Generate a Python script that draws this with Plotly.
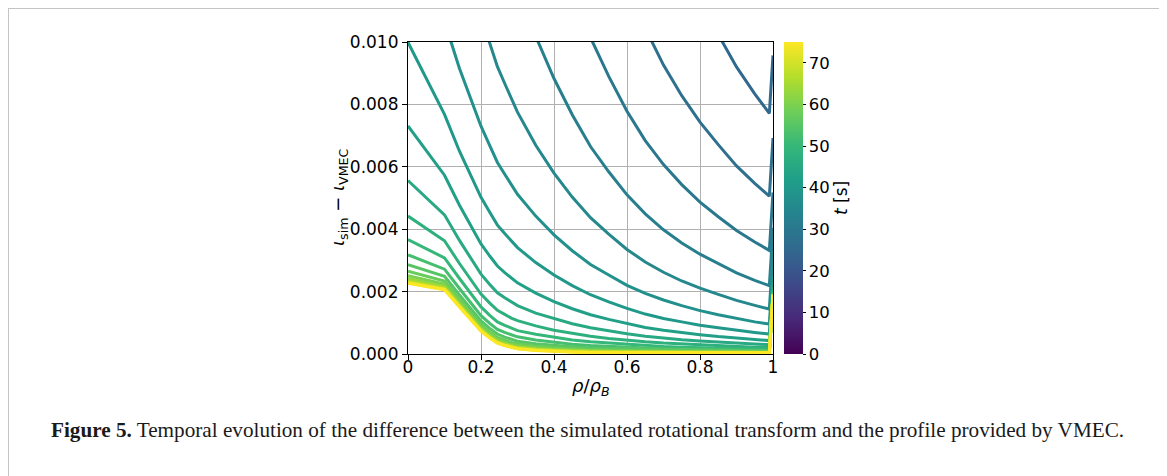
import plotly.graph_objects as go
from plotly.colors import sample_colorscale

# radial grid (rho / rho_B)
rho = [0, 0.1, 0.141, 0.173, 0.2, 0.224, 0.245, 0.265, 0.283, 0.3, 0.35, 0.4, 0.45,
       0.5, 0.55, 0.6, 0.65, 0.7, 0.75, 0.8, 0.85, 0.9, 0.95, 0.99, 1.0]

# iota_sim - iota_VMEC, in units of 1e-3, one list per snapshot time
d_t25_0 = [101.25, 74.05, 65.5, 60.08, 55.72, 52.2, 48.84, 46.26, 43.8, 41.66, 36.11, 31.38, 27.26, 23.65, 20.75, 18.14, 15.94, 14.14, 12.64, 11.34, 10.24, 9.2, 8.34, 7.71, 9.57]
d_t27_5 = [67.0, 49.14, 43.36, 39.67, 36.69, 34.31, 32.06, 30.34, 28.71, 27.3, 23.65, 20.55, 17.85, 15.48, 13.59, 11.88, 10.44, 9.26, 8.28, 7.43, 6.71, 6.03, 5.47, 5.06, 6.92]
d_t30_0 = [44.59, 32.84, 28.87, 26.31, 24.24, 22.61, 21.08, 19.93, 18.85, 17.91, 15.51, 13.47, 11.69, 10.14, 8.9, 7.78, 6.84, 6.07, 5.43, 4.87, 4.4, 3.96, 3.59, 3.32, 5.18]
d_t32_5 = [29.94, 22.19, 19.4, 17.58, 16.1, 14.96, 13.91, 13.13, 12.39, 11.77, 10.18, 8.83, 7.67, 6.65, 5.84, 5.1, 4.49, 3.98, 3.56, 3.2, 2.89, 2.6, 2.36, 2.19, 4.05]
d_t35_0 = [20.36, 15.22, 13.21, 11.87, 10.78, 9.96, 9.21, 8.67, 8.17, 7.75, 6.69, 5.8, 5.03, 4.37, 3.84, 3.35, 2.95, 2.62, 2.34, 2.11, 1.91, 1.72, 1.56, 1.44, 3.3]
d_t37_5 = [14.09, 10.66, 9.15, 8.14, 7.3, 6.68, 6.14, 5.76, 5.41, 5.12, 4.42, 3.82, 3.31, 2.87, 2.53, 2.2, 1.94, 1.73, 1.55, 1.39, 1.26, 1.14, 1.03, 0.96, 2.82]
d_t40_0 = [9.99, 7.68, 6.5, 5.69, 5.02, 4.54, 4.13, 3.86, 3.61, 3.41, 2.93, 2.53, 2.19, 1.9, 1.67, 1.46, 1.28, 1.14, 1.03, 0.92, 0.84, 0.76, 0.69, 0.64, 2.5]
d_t42_5 = [7.31, 5.73, 4.77, 4.1, 3.53, 3.14, 2.82, 2.61, 2.43, 2.28, 1.95, 1.68, 1.45, 1.26, 1.11, 0.97, 0.85, 0.76, 0.68, 0.62, 0.56, 0.51, 0.46, 0.43, 2.29]
d_t45_0 = [5.56, 4.46, 3.64, 3.05, 2.56, 2.23, 1.96, 1.8, 1.66, 1.55, 1.31, 1.13, 0.97, 0.84, 0.74, 0.65, 0.57, 0.51, 0.46, 0.42, 0.38, 0.35, 0.32, 0.3, 2.16]
d_t47_5 = [4.42, 3.63, 2.9, 2.37, 1.92, 1.63, 1.4, 1.27, 1.15, 1.07, 0.9, 0.76, 0.66, 0.57, 0.5, 0.44, 0.39, 0.35, 0.32, 0.29, 0.26, 0.24, 0.22, 0.21, 2.07]
d_t50_0 = [3.67, 3.08, 2.42, 1.92, 1.51, 1.24, 1.03, 0.92, 0.82, 0.75, 0.63, 0.53, 0.45, 0.39, 0.35, 0.3, 0.27, 0.24, 0.22, 0.2, 0.19, 0.17, 0.16, 0.15, 2.01]
d_t52_5 = [3.18, 2.72, 2.1, 1.63, 1.23, 0.98, 0.79, 0.69, 0.61, 0.55, 0.45, 0.37, 0.31, 0.27, 0.24, 0.21, 0.19, 0.17, 0.16, 0.15, 0.14, 0.13, 0.12, 0.11, 1.97]
d_t55_0 = [2.86, 2.49, 1.89, 1.44, 1.06, 0.82, 0.64, 0.54, 0.47, 0.41, 0.33, 0.27, 0.23, 0.19, 0.18, 0.15, 0.14, 0.13, 0.12, 0.11, 0.1, 0.1, 0.09, 0.09, 1.95]
d_t57_5 = [2.65, 2.34, 1.76, 1.32, 0.94, 0.71, 0.53, 0.44, 0.37, 0.33, 0.25, 0.21, 0.17, 0.14, 0.13, 0.11, 0.1, 0.1, 0.09, 0.09, 0.08, 0.08, 0.07, 0.07, 1.93]
d_t60_0 = [2.51, 2.24, 1.67, 1.23, 0.86, 0.64, 0.47, 0.38, 0.31, 0.27, 0.2, 0.16, 0.13, 0.11, 0.1, 0.09, 0.08, 0.08, 0.07, 0.07, 0.07, 0.06, 0.06, 0.06, 1.92]
d_t62_5 = [2.42, 2.17, 1.61, 1.18, 0.81, 0.59, 0.42, 0.34, 0.27, 0.23, 0.17, 0.13, 0.11, 0.09, 0.09, 0.07, 0.07, 0.06, 0.06, 0.06, 0.06, 0.06, 0.05, 0.05, 1.91]
d_t65_0 = [2.36, 2.13, 1.57, 1.15, 0.78, 0.56, 0.39, 0.31, 0.25, 0.21, 0.15, 0.12, 0.09, 0.08, 0.07, 0.06, 0.06, 0.06, 0.05, 0.05, 0.05, 0.05, 0.05, 0.05, 1.91]
d_t67_5 = [2.32, 2.1, 1.55, 1.12, 0.76, 0.54, 0.38, 0.29, 0.23, 0.19, 0.14, 0.1, 0.08, 0.07, 0.07, 0.05, 0.05, 0.05, 0.05, 0.05, 0.05, 0.05, 0.05, 0.05, 1.91]
d_t70_0 = [2.3, 2.08, 1.53, 1.11, 0.75, 0.52, 0.36, 0.28, 0.22, 0.18, 0.13, 0.1, 0.07, 0.06, 0.06, 0.05, 0.05, 0.05, 0.04, 0.04, 0.04, 0.04, 0.04, 0.04, 1.9]
d_t72_5 = [2.28, 2.07, 1.52, 1.1, 0.74, 0.52, 0.36, 0.27, 0.21, 0.17, 0.12, 0.09, 0.06, 0.05, 0.05, 0.04, 0.04, 0.04, 0.04, 0.04, 0.04, 0.04, 0.04, 0.04, 1.9]
d_t75_0 = [2.27, 2.06, 1.51, 1.09, 0.73, 0.51, 0.35, 0.27, 0.21, 0.17, 0.11, 0.08, 0.06, 0.05, 0.05, 0.04, 0.04, 0.04, 0.04, 0.04, 0.04, 0.04, 0.04, 0.04, 1.9]

times = [25.0, 27.5, 30.0, 32.5, 35.0, 37.5, 40.0, 42.5, 45.0, 47.5, 50.0,
         52.5, 55.0, 57.5, 60.0, 62.5, 65.0, 67.5, 70.0, 72.5, 75.0]
curves = [d_t25_0, d_t27_5, d_t30_0, d_t32_5, d_t35_0, d_t37_5, d_t40_0, d_t42_5,
          d_t45_0, d_t47_5, d_t50_0, d_t52_5, d_t55_0, d_t57_5, d_t60_0, d_t62_5,
          d_t65_0, d_t67_5, d_t70_0, d_t72_5, d_t75_0]

T_MIN, T_MAX = 0, 75
x_ticks = [0, 0.2, 0.4, 0.6, 0.8, 1]
x_ticktext = ["0", "0.2", "0.4", "0.6", "0.8", "1"]
y_ticks = [0, 0.002, 0.004, 0.006, 0.008, 0.010]
y_ticktext = ["0.000", "0.002", "0.004", "0.006", "0.008", "0.010"]
cb_ticks = [0, 10, 20, 30, 40, 50, 60, 70]

FONT = "DejaVu Sans"
OFF = 8  # page body margin of the html document
W, H = 1167 - OFF, 476 - OFF
# plot area geometry in window px
L, R, T, B = 408, 773, 42, 354


def px_x(p):
    return (p - L) / (R - L)


def px_y(p):
    return (B - p) / (B - T)


fig = go.Figure()

for t, c in zip(times, curves):
    col = sample_colorscale("Viridis", [(t - T_MIN) / (T_MAX - T_MIN)])[0]
    fig.add_trace(go.Scatter(
        x=rho, y=[v * 1e-3 for v in c], mode="lines",
        line=dict(color=col, width=3), showlegend=False, hoverinfo="skip"))

# colorbar carrier
fig.add_trace(go.Scatter(
    x=[0.5], y=[-1], mode="markers", showlegend=False, hoverinfo="skip",
    marker=dict(color=[0], colorscale="Viridis", cmin=T_MIN, cmax=T_MAX, size=1,
                showscale=True,
                colorbar=dict(
                    x=px_x(784), xanchor="left", y=0.5, yanchor="middle",
                    len=1, lenmode="fraction", thickness=19,
                    xpad=0, ypad=0, outlinewidth=0,
                    tickvals=cb_ticks, ticks="outside", ticklen=3, tickwidth=1,
                    tickcolor="black",
                    tickfont=dict(family=FONT, size=16.5, color="black"),
                ))))

axis_common = dict(showline=True, linecolor="black", linewidth=1.2, mirror=True,
                   ticks="outside", ticklen=5, tickwidth=1, tickcolor="black",
                   showgrid=True, gridcolor="#b0b0b0", gridwidth=1,
                   zeroline=False,
                   tickfont=dict(family=FONT, size=17, color="black"))

fig.update_xaxes(range=[0, 1], tickvals=x_ticks, ticktext=x_ticktext,
                 ticklabelstandoff=-8, **axis_common)
fig.update_yaxes(range=[0, 0.010], tickvals=y_ticks, ticktext=y_ticktext, **axis_common)

fig.add_annotation(
    x=px_x(339), y=px_y(198), xref="paper", yref="paper",
    text="<i>ι</i><sub>sim</sub>&nbsp;−&nbsp;<i>ι</i><sub>VMEC</sub>", textangle=-90,
    showarrow=False, xanchor="center", yanchor="middle",
    font=dict(family=FONT, size=18, color="black"))

fig.add_annotation(
    x=px_x(591), y=px_y(387), xref="paper", yref="paper",
    text="<i>ρ</i>/<i>ρ</i><sub><i>B</i></sub>",
    showarrow=False, xanchor="center", yanchor="middle",
    font=dict(family=FONT, size=18, color="black"))

fig.add_annotation(
    x=px_x(841), y=px_y(198), xref="paper", yref="paper",
    text="<i>t</i> [s]", textangle=-90,
    showarrow=False, xanchor="center", yanchor="middle",
    font=dict(family=FONT, size=17, color="black"))

fig.add_annotation(
    x=px_x(49), y=px_y(430), xref="paper", yref="paper",
    text="<b>Figure 5.</b> Temporal evolution of the difference between the simulated "
         "rotational transform and the profile provided by VMEC.",
    showarrow=False, xanchor="left", yanchor="middle",
    font=dict(family="Liberation Serif", size=21.2, color="#1a1a1a"))

# figure frame
fig.add_shape(type="rect", xref="paper", yref="paper",
              x0=px_x(8), x1=px_x(1161), y0=px_y(490), y1=px_y(8),
              line=dict(color="#c4c4c4", width=2), fillcolor="rgba(0,0,0,0)", layer="below")

fig.update_layout(
    width=W, height=H,
    margin=dict(l=L - OFF, r=(W + OFF) - R, t=T - OFF, b=(H + OFF) - B, pad=0),
    paper_bgcolor="white", plot_bgcolor="white",
    showlegend=False,
)

fig.write_html("out.html")
